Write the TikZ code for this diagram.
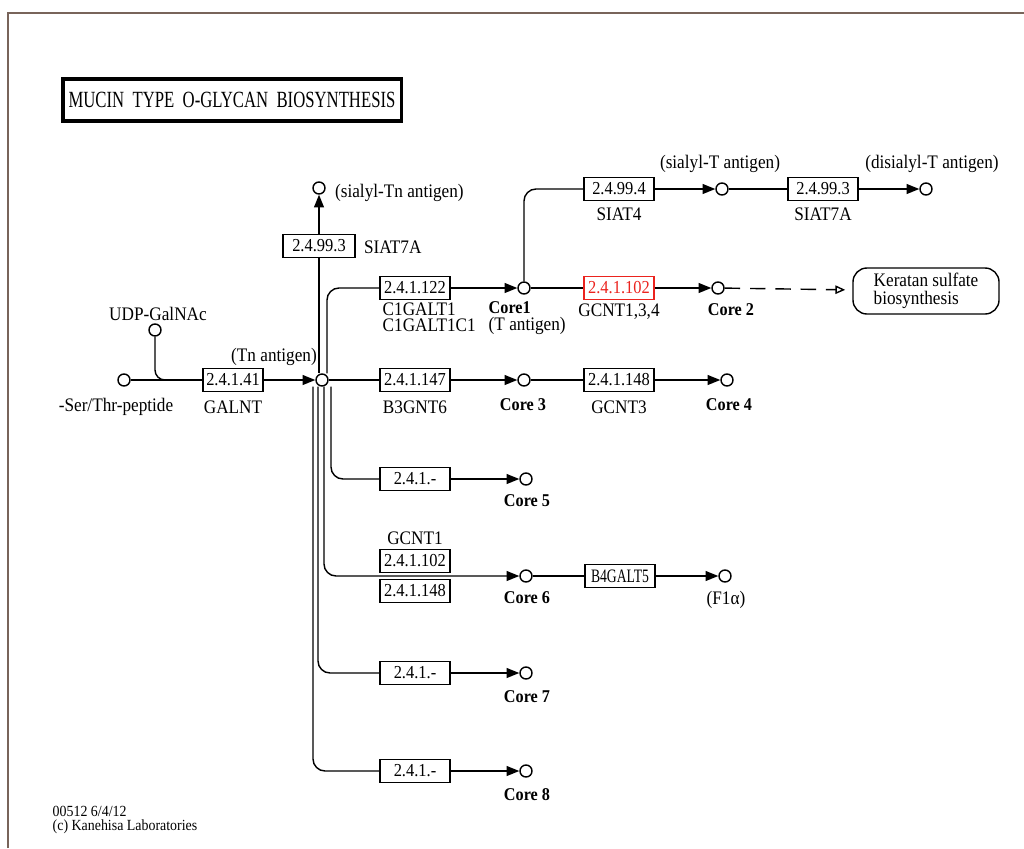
\documentclass[tikz,border=0pt]{standalone}
\usepackage{fontspec}
\setmainfont{Liberation Serif}
\newfontfamily\narrowfont[FakeStretch=0.72]{Liberation Serif}
\newfontfamily\keggfont[FakeStretch=0.9]{Liberation Serif}
\usetikzlibrary{arrows.meta,positioning,calc}
\definecolor{keggred}{RGB}{235,35,30}
\definecolor{framegray}{RGB}{120,100,90}
\newcommand{\lblsize}{\keggfont\fontsize{13.6}{11.8}\selectfont}
\newcommand{\ecsize}{\keggfont\fontsize{13}{12}\selectfont}
\newcommand{\coresize}{\keggfont\fontsize{12.8}{12}\selectfont\bfseries}
\newcommand{\titlesize}{\narrowfont\fontsize{16.5}{17}\selectfont}

\begin{document}
\begin{tikzpicture}[x=0.025cm, y=-0.025cm, line width=1pt,
    every node/.style={font=\lblsize, inner sep=1pt},
    cpd/.style={circle, draw, minimum size=0.3cm, inner sep=0pt},
    ec/.style={draw, minimum width=1.75cm, minimum height=0.58cm, inner sep=1pt, font=\ecsize},
    core/.style={font=\coresize},
    arr/.style={-{Triangle[length=9pt,width=7pt]}},
    elbow/.style={rounded corners=0.3cm}]

\useasboundingbox (0,0) rectangle (1024,848);
\draw[framegray, line width=1.2pt] (8,848) -- (8,13) -- (1024,13);

% title
\node[draw, line width=2.2pt, minimum width=8.45cm, minimum height=1.05cm, font=\titlesize] (title) at (232,100) {MUCIN\ \ TYPE\ \ O-GLYCAN\ \ BIOSYNTHESIS};

% Tn antigen
\node[cpd] (serthr) at (124,380) {};
\node[cpd] (udp) at (155,330) {};
\node[ec, minimum width=1.5cm] (galnt) at (233,380) {2.4.1.41};
\node[cpd] (tn) at (322,380) {};
\coordinate (udpjoin) at (182,380);
\node at (116,407) {-Ser/Thr-peptide};
\node at (158,314) {UDP-GalNAc};
\node at (233,407) {GALNT};
\node at (274,357) {(Tn antigen)};

\draw (serthr) -- (galnt);
\draw[rounded corners=0.25cm] (udp) |- (udpjoin);
\draw[arr] (galnt) -- (tn);

% sialyl-Tn
\node[ec, minimum width=1.8cm] (siat7a) at (319,246) {2.4.99.3};
\node[cpd] (stn) at (319,188) {};
\node[anchor=west] at (362,247) {SIAT7A};
\node[anchor=west] at (333,193) {(sialyl-Tn antigen)};
\draw ($(tn.north)+(-3,0)$) -- (siat7a);
\draw[arr] (siat7a) -- (stn);

% core 1 and core 2
\node[ec] (c1galt) at (415,288) {2.4.1.122};
\node[anchor=north west, align=left, inner sep=0pt] at (382,302) {C1GALT1\\C1GALT1C1};
\node[cpd] (core1) at (524,288) {};
\node[anchor=north west, align=left, inner sep=0pt] at (488,301) {{\coresize Core1}\\(T antigen)};
\node[ec, draw=keggred, text=keggred] (gcnt) at (619,288) {2.4.1.102};
\node at (619,312) {GCNT1,3,4};
\node[cpd] (core2) at (718,288) {};
\node[core] at (731,310) {Core 2};
\node[draw, rounded corners=0.35cm, minimum width=3.65cm, minimum height=1.15cm, align=left, font=\keggfont\fontsize{13.6}{12.5}\selectfont] (ks) at (926,291) {Keratan sulfate\\biosynthesis};

\draw[elbow] ($(tn.north)+(5,0)$) |- (c1galt);
\draw[arr] (c1galt) -- (core1);
\draw (core1) -- (gcnt);
\draw[arr] (gcnt) -- (core2);
\draw[dash pattern=on 11pt off 7pt, -{Triangle[open,length=7pt,width=6pt]}, shorten >=5pt] (core2) -- (ks);

% sialyl-T
\node[ec] (siat4) at (619,189) {2.4.99.4};
\node at (619,214) {SIAT4};
\node[cpd] (sialylT) at (722,189) {};
\node at (720,164) {(sialyl-T antigen)};
\node[ec] (siat7b) at (823,189) {2.4.99.3};
\node at (823,214) {SIAT7A};
\node[cpd] (disialylT) at (926,189) {};
\node at (932,164) {(disialyl-T antigen)};

\draw[elbow] (core1) |- (siat4);
\draw[arr] (siat4) -- (sialylT);
\draw (sialylT) -- (siat7b);
\draw[arr] (siat7b) -- (disialylT);

% core 3 and core 4
\node[ec] (b3gnt6) at (415,380) {2.4.1.147};
\node at (415,407) {B3GNT6};
\node[cpd] (core3) at (524,380) {};
\node[core] at (523,405) {Core 3};
\node[ec] (gcnt3) at (619,380) {2.4.1.148};
\node at (619,407) {GCNT3};
\node[cpd] (core4) at (727,380) {};
\node[core] at (729,405) {Core 4};

\draw (tn) -- (b3gnt6);
\draw[arr] (b3gnt6) -- (core3);
\draw (core3) -- (gcnt3);
\draw[arr] (gcnt3) -- (core4);

% core 5
\node[ec] (ec5) at (415,479) {2.4.1.-};
\node[cpd] (core5) at (526,479) {};
\node[core] at (527,501) {Core 5};
\draw[elbow] ($(tn.south)+(9,0)$) |- (ec5);
\draw[arr] (ec5) -- (core5);

% core 6
\node at (415,538) {GCNT1};
\node[ec] (ec6a) at (415,561) {2.4.1.102};
\node[ec] (ec6b) at (415,591) {2.4.1.148};
\node[cpd] (core6) at (526,576) {};
\node[core] at (527,598) {Core 6};
\node[ec, font=\narrowfont\fontsize{13.5}{12}\selectfont] (b4galt5) at (620,576) {B4GALT5};
\node[cpd] (f1a) at (725,576) {};
\node at (726,600) {(F1α)};
\draw[arr, elbow] ($(tn.south)+(2,0)$) |- (core6);
\draw (core6) -- (b4galt5);
\draw[arr] (b4galt5) -- (f1a);

% core 7
\node[ec] (ec7) at (415,673) {2.4.1.-};
\node[cpd] (core7) at (526,673) {};
\node[core] at (527,697) {Core 7};
\draw[elbow] ($(tn.south)+(-4,0)$) |- (ec7);
\draw[arr] (ec7) -- (core7);

% core 8
\node[ec] (ec8) at (415,771) {2.4.1.-};
\node[cpd] (core8) at (526,771) {};
\node[core] at (527,795) {Core 8};
\draw[elbow] ($(tn.south)+(-9,0)$) |- (ec8);
\draw[arr] (ec8) -- (core8);

% footer
\node[anchor=north west, align=left, inner sep=0pt, font=\keggfont\fontsize{11}{10.5}\selectfont] (stamp) at (52,805) {00512 6/4/12\\(c) Kanehisa Laboratories};
\end{tikzpicture}
\end{document}
